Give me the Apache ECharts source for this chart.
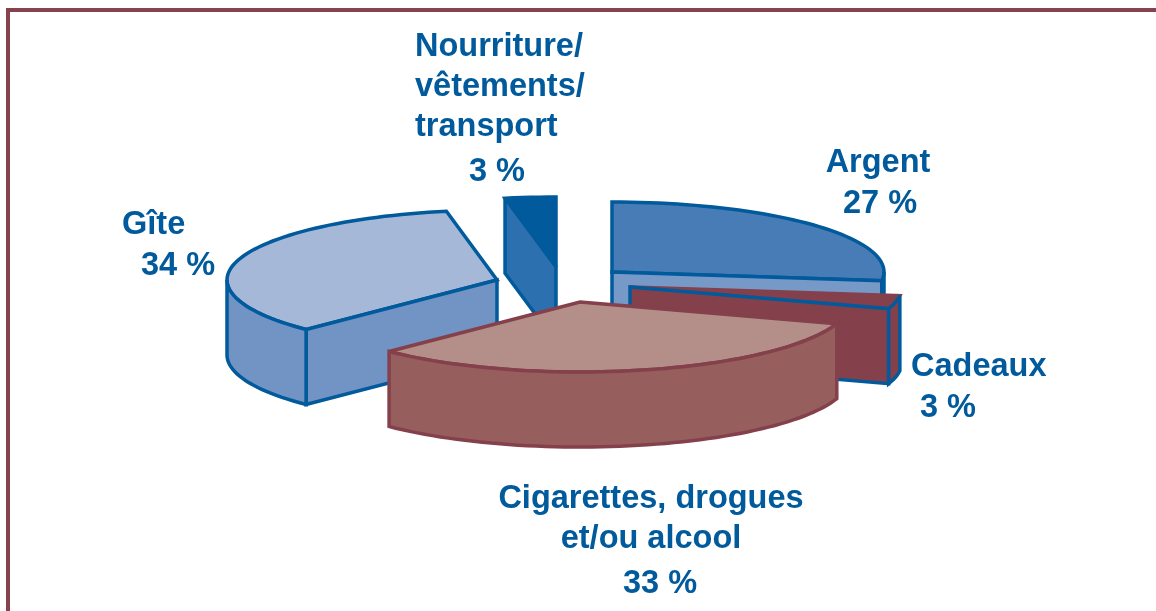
<!DOCTYPE html>
<html><head><meta charset="utf-8">
<style>html,body{margin:0;padding:0;background:#fff}#c{width:1156px;height:611px}</style>
<script src="https://cdn.jsdelivr.net/npm/echarts@6/dist/echarts.min.js"></script>
</head><body><div id="c"></div>
<script>
// Data
const categories = ["Argent", "Cadeaux", "Cigarettes, drogues et/ou alcool", "Gîte", "Nourriture/ vêtements/ transport"];
const values = [27, 3, 33, 34, 3];
const labelNames = [["Argent"], ["Cadeaux"], ["Cigarettes, drogues", "et/ou alcool"], ["Gîte"], ["Nourriture/", "vêtements/", "transport"]];

// Layout (axis units = px of the page)
const apexX = [612, 630, 580, 497, 556];
const apexY = [272, 287, 302, 280, 267];
const radiiX = [272, 272, 270, 270, 272];
const radiusY = 70, depth = 75;
const boundaryShift = [0, 0, 0, -1.8, 0]; // the drawn boundary Cigarettes/Gîte sits slightly before its nominal angle
const drawOrder = [4, 0, 3, 1, 2];
// per-label line anchors: [x, y, align]
const labelAnchors = [
  [[878,163,"center"],[880,204,"center"]],
  [[911,367,"left"],[920,408,"left"]],
  [[651,499,"center"],[651,539,"center"],[660,584,"center"]],
  [[122,225,"left"],[141,266,"left"]],
  [[415,47,"left"],[415,87,"left"],[415,127,"left"],[469,172,"left"]]
];
// Style
const topColors = ["#487cb6", "#84404b", "#b48e88", "#a5b8d8", "#005a9c"];
const sideColors = ["#7699c8", "#84404b", "#965f5e", "#7294c4", "#2c70af"];
const edgeColors = ["#005a9c", "#005a9c", "#84404b", "#005a9c", "#005a9c"];
const topEdgeColors = ["#005a9c", "#84404b", "#84404b", "#005a9c", "#005a9c"];
const textColor = "#005a9c";

const total = values.reduce((a, b) => a + b, 0);
const bounds = [];
values.reduce((acc, v, i) => { bounds[i] = acc + boundaryShift[i]; return acc + v / total * 360; }, 0);
bounds.push(360);

function renderItem(params, api) {
  const i = api.value(1);
  const a0 = bounds[i], a1 = bounds[i + 1];
  const rim = (a, dz) => {
    const r = a * Math.PI / 180;
    return api.coord([apexX[i] + radiiX[i] * Math.sin(r), apexY[i] - radiusY * Math.cos(r) + dz]);
  };
  const apex = dz => api.coord([apexX[i], apexY[i] + dz]);
  const arc = (from, to, dz) => {
    const pts = [], n = Math.max(2, Math.ceil((to - from) / 2));
    for (let k = 0; k <= n; k++) pts.push(rim(from + (to - from) * k / n, dz));
    return pts;
  };
  const poly = (points, fill, stroke) => ({ type: "polygon", shape: { points },
    style: { fill, stroke, lineWidth: 3.5, lineJoin: "miter", miterLimit: 3 } });
  const children = [];
  // top face
  children.push(poly([apex(0)].concat(arc(a0, a1, 0)), topColors[i], topEdgeColors[i]));
  // radial walls
  if (a1 > 0 && a1 < 180) children.push(poly([apex(0), rim(a1, 0), rim(a1, depth), apex(depth)], sideColors[i], edgeColors[i]));
  if (a0 > 180) children.push(poly([apex(0), rim(a0, 0), rim(a0, depth), apex(depth)], sideColors[i], edgeColors[i]));
  // outer wall (front half only)
  const f0 = Math.max(a0, 90), f1 = Math.min(a1, 270);
  if (f1 > f0) children.push(poly(arc(f0, f1, 0).concat(arc(f0, f1, depth).reverse()), sideColors[i], edgeColors[i]));
  // labels
  const lines = labelNames[i].concat([values[i] + " %"]);
  lines.forEach((t, k) => {
    const [x, y, align] = labelAnchors[i][k];
    const p = api.coord([x, y]);
    children.push({ type: "text", x: p[0], y: p[1], z2: 100,
      style: { text: t, fill: textColor, font: 'bold 32.5px "Liberation Sans", Arial, sans-serif', align, verticalAlign: "middle" } });
  });
  return { type: "group", children };
}

const chart = echarts.init(document.getElementById("c"), null, { renderer: "canvas" });
chart.setOption({
  animation: false,
  backgroundColor: "#ffffff",
  grid: { left: 0, right: 0, top: 0, bottom: 0 },
  xAxis: { type: "value", min: 0, max: 1156, show: false },
  yAxis: { type: "value", min: 0, max: 611, inverse: true, show: false },
  graphic: [
    { type: "rect", shape: { x: 6, y: 8, width: 1150, height: 4 }, style: { fill: "#86424d" } },
    { type: "rect", shape: { x: 6, y: 8, width: 4, height: 603 }, style: { fill: "#86424d" } }
  ],
  series: [{
    type: "custom",
    name: "Dépenses",
    coordinateSystem: "cartesian2d",
    renderItem,
    clip: false,
    silent: true,
    encode: { x: 0, y: 1 },
    data: drawOrder.map(i => ({ name: categories[i], value: [values[i], i] }))
  }]
});
</script></body></html>
